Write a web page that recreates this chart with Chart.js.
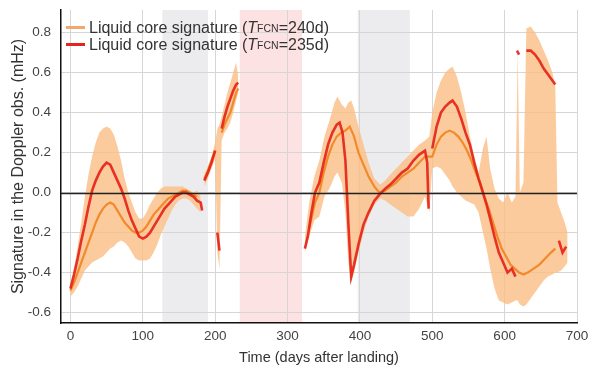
<!DOCTYPE html>
<html>
<head>
<meta charset="utf-8">
<script src="https://cdn.jsdelivr.net/npm/chart.js@4/dist/chart.umd.min.js"></script>
<style>
  html, body { margin: 0; padding: 0; background: #fff; }
  #wrap { position: relative; width: 589px; height: 373px; }
  #legend {
    position: absolute; left: 66px; top: 19px;
    font-family: "Liberation Sans", Arial, sans-serif; font-size: 16px;
    color: #333; line-height: 17px;
  }
  .row { display: flex; align-items: center; white-space: nowrap; }
  .sw { display: inline-block; width: 19px; height: 3px; margin-right: 4px; }
  sub { font-size: 10.5px; vertical-align: -3px; line-height: 0; }
</style>
</head>
<body>
<div id="wrap">
  <canvas id="chart" width="589" height="373"></canvas>
  <div id="legend">
    <div class="row"><span class="sw" style="background:#f2a86c"></span>Liquid core signature (<i>T</i><sub>FCN</sub>=240d)</div>
    <div class="row"><span class="sw" style="background:#e3261c"></span>Liquid core signature (<i>T</i><sub>FCN</sub>=235d)</div>
  </div>
</div>
<script>
// axis ticks
const xTicks = [0, 100, 200, 300, 400, 500, 600, 700];
const yTicks = [-0.6, -0.4, -0.2, 0, 0.2, 0.4, 0.6, 0.8];

// shaded periods (days)
const greyPeriods = [[127, 190], [397, 469]];
const pinkPeriods = [[234, 320]];

// uncertainty envelope (null = gap)
const bandDays = [
  0, 5, 10, 15, 20, 25, 30, 35, 40, 45, 50, 55, 60, 65, 70, 75, 80, 85, 90, 95, 100, 105, 110, 115, 120, 125, 130, 135, 140, 145, 150, 155, 160, 165, 170, 175, 180,
  183,
  185, 190, 195, 200, 203, 206, 209, 213, 217, 221, 225, 229, 232,
  260,
  324, 330, 337, 344, 351, 358, 365, 369, 375, 380, 384, 388, 392, 398, 405, 412, 420, 428, 435, 442, 450, 458, 466, 474, 482, 490, 496,
  500, 506, 512, 518, 524, 528, 534, 540, 546, 552, 558, 564, 570, 575, 580, 586, 592, 598, 604, 610, 615, 618, 621, 626, 630, 636, 642, 648, 654, 660, 666, 670, 673, 678, 683, 687
];
const bandHi = [
  -0.46, -0.38, -0.27, -0.15, -0.02, 0.09, 0.18, 0.25, 0.30, 0.32, 0.33, 0.32, 0.29, 0.23, 0.16, 0.07, 0.00, -0.05, -0.10, -0.13, -0.13, -0.10, -0.06, -0.03, 0.00, 0.02, 0.03, 0.03, 0.03, 0.03, 0.03, 0.03, 0.02, 0.01, 0.00, 0.01, -0.02,
  null,
  0.09, 0.13, 0.18, 0.25, 0.32, 0.34, 0.38, 0.44, 0.50, 0.55, 0.60, 0.65, 0.58,
  null,
  -0.22, -0.05, 0.08, 0.16, 0.28, 0.36, 0.45, 0.48, 0.44, 0.42, 0.45, 0.46, 0.42, 0.33, 0.24, 0.15, 0.07, 0.04, 0.06, 0.09, 0.12, 0.15, 0.18, 0.21, 0.24, 0.26, 0.28,
  0.40, 0.50, 0.56, 0.60, 0.62, 0.63, 0.58, 0.50, 0.40, 0.28, 0.18, 0.10, 0.22, 0.28, 0.12, 0.02, -0.03, -0.05, 0.00, -0.05, -0.02, 0.70, 0.00, 0.05, 0.82, 0.83, 0.80, 0.76, 0.71, 0.66, 0.60, 0.53, -0.05, -0.10, -0.15, -0.20
];
const bandLo = [
  -0.52, -0.50, -0.47, -0.43, -0.39, -0.37, -0.35, -0.34, -0.33, -0.32, -0.30, -0.28, -0.27, -0.25, -0.24, -0.25, -0.27, -0.30, -0.33, -0.34, -0.34, -0.34, -0.33, -0.30, -0.26, -0.21, -0.17, -0.13, -0.09, -0.06, -0.04, -0.03, -0.03, -0.04, -0.06, -0.08, -0.10,
  null,
  0.03, 0.07, 0.12, 0.17, -0.30, -0.38, 0.26, 0.30, 0.32, 0.35, 0.40, 0.46, 0.50,
  null,
  -0.30, -0.22, -0.14, -0.12, -0.02, 0.02, 0.08, 0.10, 0.05, -0.10, -0.35, -0.45, -0.40, -0.30, -0.20, -0.12, -0.06, -0.03, -0.04, -0.06, -0.08, -0.10, -0.12, -0.12, -0.08, -0.02, -0.10,
  0.12, 0.13, 0.12, 0.09, 0.06, 0.03, 0.00, -0.02, -0.04, -0.05, -0.06, -0.10, -0.20, -0.28, -0.38, -0.48, -0.54, -0.55, -0.56, -0.55, -0.54, -0.54, -0.56, -0.57, -0.56, -0.53, -0.50, -0.47, -0.44, -0.42, -0.41, -0.40, -0.40, -0.39, -0.37, -0.35
];

// T_FCN = 235 d
const redDays = [
  0, 5, 10, 15, 20, 25, 30, 35, 40, 45, 50, 55, 60, 65, 70, 75, 80, 85, 90, 95, 100, 105, 110, 115, 120, 125, 130, 135, 140, 145, 150, 155, 160, 165, 170, 175, 180, 182,
  183,
  185, 190, 195, 200,
  201,
  203, 206,
  207,
  209, 213, 217, 221, 225, 229, 232,
  260,
  324, 328, 333, 338, 344, 350, 356, 362, 368, 372, 376, 380, 384, 388, 392, 398, 405, 412, 420, 427, 435, 442, 450, 458, 466, 474, 482, 490, 493, 495,
  497,
  500, 506, 512, 518, 524, 528, 534, 540, 546, 552, 558, 564, 570, 575, 580, 586, 592, 598, 604, 610, 615,
  616,
  617, 620,
  622,
  630, 636, 642, 648, 654, 660, 666, 670,
  672,
  675, 680, 685
];
const redVals = [
  -0.48, -0.41, -0.33, -0.24, -0.16, -0.07, 0.01, 0.06, 0.10, 0.13, 0.15, 0.14, 0.10, 0.06, 0.02, -0.03, -0.09, -0.14, -0.18, -0.22, -0.23, -0.22, -0.20, -0.17, -0.14, -0.11, -0.08, -0.06, -0.04, -0.02, -0.01, 0.00, 0.00, -0.01, -0.02, -0.04, -0.05, -0.09,
  null,
  0.06, 0.10, 0.15, 0.21,
  null,
  -0.20, -0.29,
  null,
  0.32, 0.38, 0.43, 0.47, 0.51, 0.54, 0.55,
  null,
  -0.28, -0.22, -0.10, 0.00, 0.05, 0.15, 0.24, 0.30, 0.34, 0.35, 0.30, 0.16, -0.15, -0.42, -0.36, -0.26, -0.16, -0.10, -0.04, -0.01, 0.02, 0.04, 0.07, 0.10, 0.12, 0.16, 0.19, 0.21, 0.15, -0.08,
  null,
  0.22, 0.33, 0.40, 0.43, 0.45, 0.46, 0.43, 0.37, 0.30, 0.24, 0.15, 0.07, 0.00, -0.06, -0.13, -0.22, -0.30, -0.35, -0.40, -0.38, -0.42,
  null,
  0.71, 0.69,
  null,
  0.71, 0.71, 0.69, 0.66, 0.62, 0.59, 0.56, 0.54,
  null,
  -0.24, -0.30, -0.27
];

// T_FCN = 240 d
const orangeDays = [
  0, 5, 10, 15, 20, 25, 30, 35, 40, 45, 50, 55, 60, 65, 70, 75, 80, 85, 90, 95, 100, 105, 110, 115, 120, 125, 130, 135, 140, 145, 150, 155, 160, 165, 170, 175,
  182,
  185, 190, 195, 200,
  204,
  209, 213, 217, 221, 225, 229, 232,
  260,
  330, 338, 344, 350, 356, 362, 368, 374, 380, 386, 392, 398, 405, 412, 420, 427, 435, 442, 450, 458, 466, 474, 482, 490,
  500, 506, 512, 518, 524, 530, 536, 542, 548, 554, 560, 566, 572, 578, 584, 590, 596, 602, 608, 614, 620, 626, 632, 640, 648, 656, 664, 670
];
const orangeVals = [
  -0.49, -0.45, -0.40, -0.35, -0.30, -0.25, -0.20, -0.15, -0.11, -0.08, -0.06, -0.05, -0.06, -0.09, -0.12, -0.15, -0.17, -0.19, -0.20, -0.20, -0.19, -0.17, -0.14, -0.11, -0.09, -0.07, -0.05, -0.03, -0.02, -0.01, 0.00, 0.01, 0.01, 0.00, -0.01, -0.02,
  null,
  0.07, 0.11, 0.16, 0.21,
  null,
  0.30, 0.34, 0.37, 0.40, 0.45, 0.50, 0.52,
  null,
  -0.18, -0.05, 0.00, 0.10, 0.18, 0.24, 0.28, 0.30, 0.31, 0.33, 0.28, 0.20, 0.14, 0.08, 0.03, 0.00, 0.01, 0.03, 0.05, 0.08, 0.10, 0.12, 0.15, 0.18,
  0.18, 0.24, 0.28, 0.30, 0.31, 0.30, 0.28, 0.25, 0.21, 0.16, 0.10, 0.05, -0.02, -0.08, -0.15, -0.22, -0.28, -0.32, -0.36, -0.38, -0.40, -0.41, -0.40, -0.38, -0.36, -0.33, -0.30, -0.28
];

const pts = (xs, ys) => xs.map((x, i) => ({ x: x, y: ys[i] }));

// grey / pink observation periods, painted under the grid
const shadePlugin = {
  id: 'shade',
  beforeDraw(chart) {
    const { ctx, chartArea, scales } = chart;
    const paint = (list, color) => {
      ctx.fillStyle = color;
      list.forEach(p => {
        const x0 = scales.x.getPixelForValue(p[0]);
        const x1 = scales.x.getPixelForValue(p[1]);
        ctx.fillRect(x0, chartArea.top, x1 - x0, chartArea.bottom - chartArea.top);
      });
    };
    ctx.save();
    paint(greyPeriods, '#ececee');
    paint(pinkPeriods, '#fde2e3');
    ctx.restore();
  }
};

// black zero line on top of the data
const zeroLine = {
  id: 'zeroLine',
  afterDatasetsDraw(chart) {
    const { ctx, chartArea, scales } = chart;
    const y = Math.round(scales.y.getPixelForValue(0)) + 0.5;
    ctx.save();
    ctx.strokeStyle = '#222';
    ctx.lineWidth = 1.3;
    ctx.beginPath();
    ctx.moveTo(chartArea.left, y);
    ctx.lineTo(chartArea.right, y);
    ctx.stroke();
    ctx.restore();
  }
};

const family = '"Liberation Sans", Arial, sans-serif';
const tickFont = { family: family, size: 13.5 };

new Chart(document.getElementById('chart').getContext('2d'), {
  type: 'line',
  data: {
    datasets: [
      {
        label: 'T_FCN=235d',
        data: pts(redDays, redVals),
        borderColor: 'rgba(228, 32, 22, 0.9)',
        borderWidth: 2.6,
        pointRadius: 0,
        tension: 0,
        fill: false,
        order: 1
      },
      {
        label: 'T_FCN=240d',
        data: pts(orangeDays, orangeVals),
        borderColor: '#f28a2a',
        borderWidth: 2.2,
        pointRadius: 0,
        tension: 0,
        fill: false,
        order: 2
      },
      {
        label: 'upper',
        data: pts(bandDays, bandHi),
        borderWidth: 0,
        borderColor: 'rgba(0,0,0,0)',
        backgroundColor: 'rgba(251, 190, 132, 0.8)',
        pointRadius: 0,
        tension: 0,
        fill: '+1',
        order: 3
      },
      {
        label: 'lower',
        data: pts(bandDays, bandLo),
        borderWidth: 0,
        borderColor: 'rgba(0,0,0,0)',
        pointRadius: 0,
        tension: 0,
        fill: false,
        order: 4
      }
    ]
  },
  plugins: [shadePlugin, zeroLine],
  options: {
    responsive: false,
    animation: false,
    layout: { padding: { top: 10, right: 12, left: 0, bottom: 0 } },
    plugins: {
      legend: { display: false },
      tooltip: { enabled: false }
    },
    scales: {
      x: {
        type: 'linear',
        min: -13,
        max: 700,
        afterBuildTicks: s => { s.ticks = xTicks.map(v => ({ value: v })); },
        afterFit: s => { s.height = 50; s.paddingLeft = 0; s.paddingRight = 0; },
        grid: { color: '#d6d6d6', lineWidth: 1, drawTicks: false },
        border: { color: '#111', width: 1.5 },
        ticks: { font: tickFont, color: '#444', padding: 5 },
        title: { display: true, text: 'Time (days after landing)', font: { family: family, size: 14.5 }, color: '#333', padding: { top: 2, bottom: 6 } }
      },
      y: {
        min: -0.652,
        max: 0.913,
        afterBuildTicks: s => { s.ticks = yTicks.map(v => ({ value: v })); },
        afterFit: s => { s.width = 61; s.paddingTop = 0; s.paddingBottom = 0; },
        grid: { color: '#d6d6d6', lineWidth: 1, drawTicks: false },
        border: { color: '#111', width: 1.5 },
        ticks: { font: tickFont, color: '#444', padding: 10, callback: v => v.toFixed(1) },
        title: { display: true, text: 'Signature in the Doppler obs. (mHz)', font: { family: family, size: 16 }, color: '#333', padding: { top: 9, bottom: 0 } }
      }
    }
  }
});
</script>
</body>
</html>
